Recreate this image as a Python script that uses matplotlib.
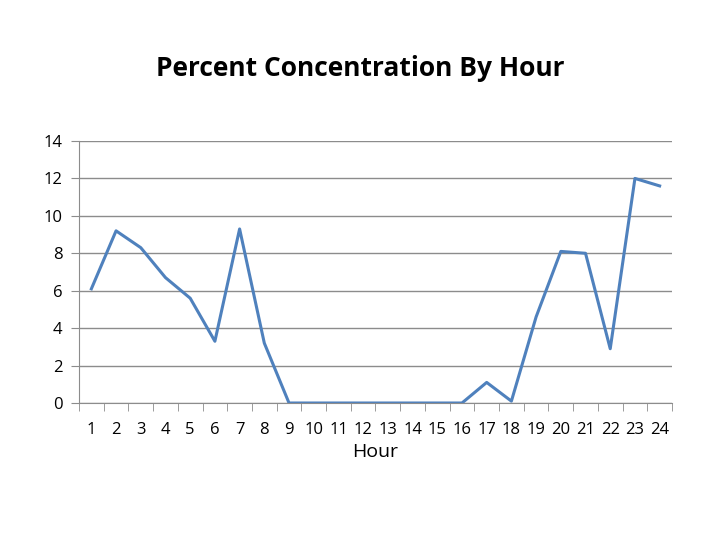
import numpy as np
import matplotlib.pyplot as plt

plt.rcParams['font.family'] = ['Open Sans', 'DejaVu Sans']

hours = list(range(1, 25))
concentration = [6.1, 9.2, 8.3, 6.7, 5.6, 3.3, 9.3, 3.2, 0, 0, 0, 0, 0, 0, 0, 0,
                 1.1, 0.1, 4.6, 8.1, 8.0, 2.9, 12.0, 11.6]

fig = plt.figure(figsize=(7.2, 5.4), dpi=100)
ax = fig.add_axes([79/720, 1 - 403/540, 593/720, 262/540])

ax.plot(hours, concentration, color='#4f81bd', linewidth=2.2)
ax.set_xlim(0.5, 24.5)
ax.set_ylim(0, 14)
ax.set_yticks(range(0, 15, 2))
ax.grid(axis='y', color='#8c8c8c', linewidth=1)
ax.set_axisbelow(True)

# category axis: labels centred, tick marks on the bin edges
ax.set_xticks(hours)
ax.set_xticklabels([str(h) for h in hours], fontsize=12)
ax.tick_params(axis='x', length=0, pad=14)
ax.set_xticks(np.arange(0.5, 25, 1), minor=True)
ax.tick_params(axis='x', which='minor', length=6, color='#8c8c8c')
ax.tick_params(axis='y', length=6, color='#8c8c8c', labelsize=12, pad=6)

for s in ['top', 'right']:
    ax.spines[s].set_visible(False)
for s in ['left', 'bottom']:
    ax.spines[s].set_color('#8c8c8c')

ax.set_xlabel('Hour', fontsize=14, labelpad=3)
fig.text(0.5, 1 - 68/540, 'Percent Concentration By Hour', ha='center', va='center',
         fontsize=19, fontweight='bold')

fig.savefig('out.png', dpi=100)
